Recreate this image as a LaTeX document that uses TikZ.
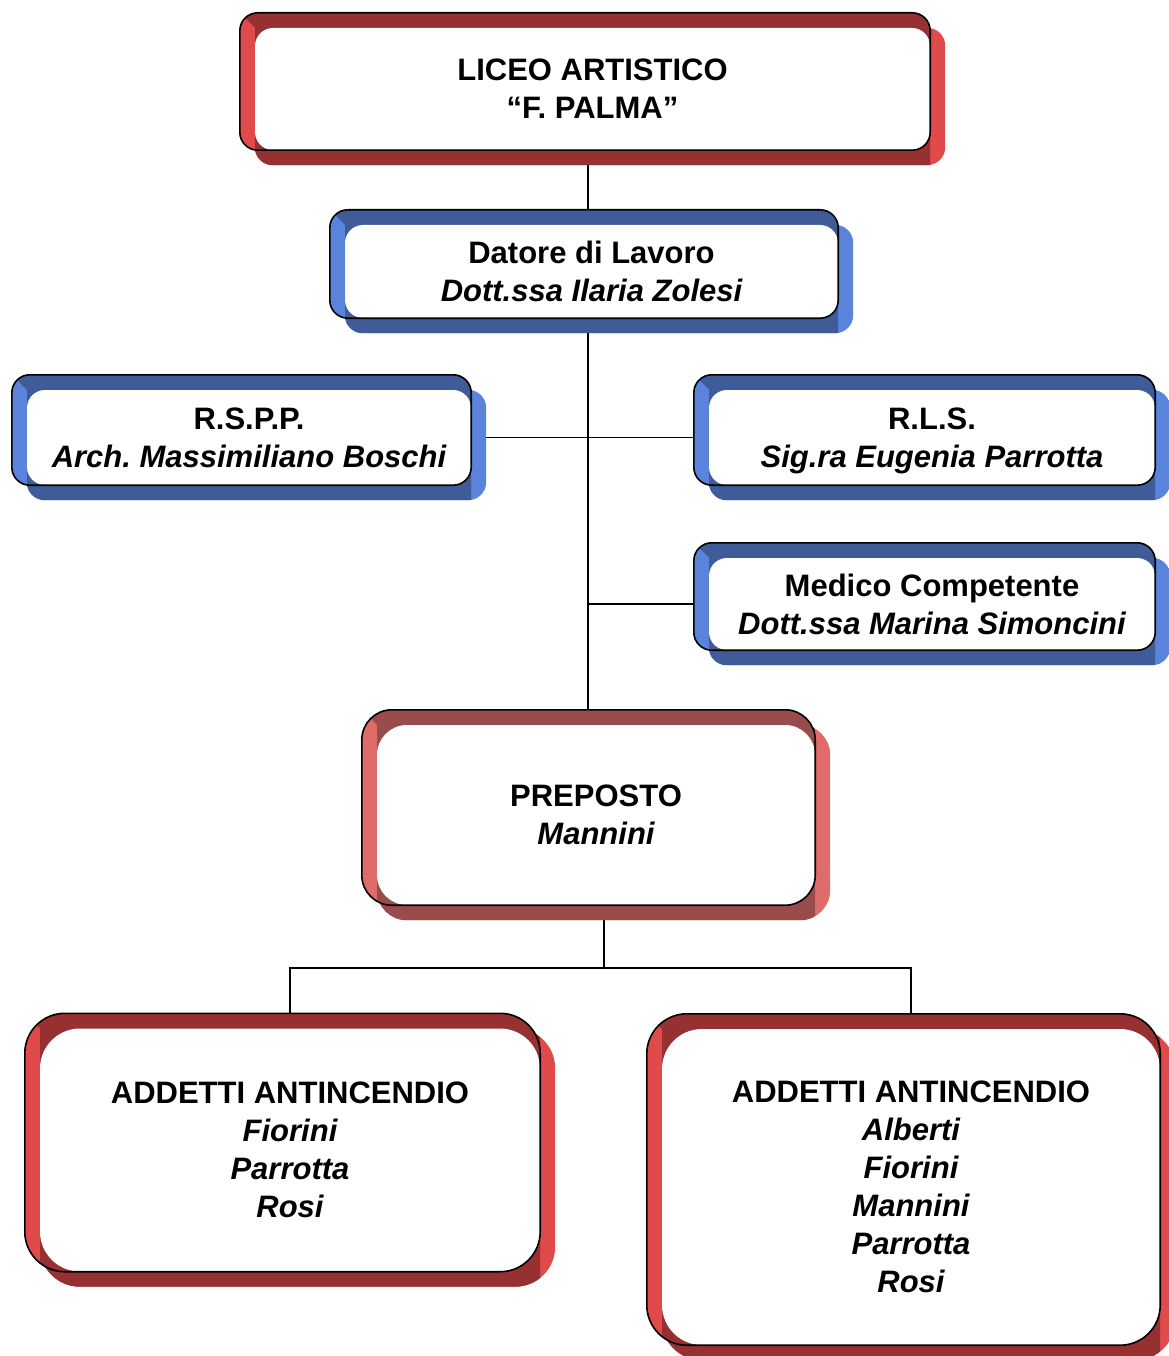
\documentclass[tikz,border=0pt]{standalone}
\usepackage{fontspec}
\setmainfont{Liberation Sans}
\usetikzlibrary{backgrounds}

\definecolor{reddk}{HTML}{973030}
\definecolor{redlt}{HTML}{E04A4A}
\definecolor{bluedk}{HTML}{3F5B98}
\definecolor{bluelt}{HTML}{5A84DC}
\definecolor{pinkdk}{HTML}{9A4B4B}
\definecolor{pinklt}{HTML}{E06B6B}

\begin{document}
\begin{tikzpicture}[x=1pt, y=-1pt,
	box/.style={fill=white, rounded corners=#1, inner sep=0pt, align=center,
		font=\fontsize{31}{38}\selectfont\bfseries},
	link/.style={line width=1.4pt},
	frame/.style={line width=1.6pt}]
	\useasboundingbox (0,0) rectangle (1168,1356);

	\node [box=18, minimum width=675pt, minimum height=122pt] (liceo) at (592.5,89) {LICEO ARTISTICO\\“F. PALMA”};
	\node [box=18, minimum width=493pt, minimum height=93pt] (datore) at (591.5,271.5) {Datore di Lavoro\\\itshape Dott.ssa Ilaria Zolesi};
	\node [box=18, minimum width=444pt, minimum height=95pt] (rspp) at (249,437.5) {R.S.P.P.\\\itshape Arch.\ Massimiliano Boschi};
	\node [box=18, minimum width=446pt, minimum height=95pt] (rls) at (932,437.5) {R.L.S.\\\itshape\smash{Sig.ra Eugenia Parrotta}};
	\node [box=18, minimum width=446pt, minimum height=92pt] (medico) at (932,604) {Medico Competente\\\itshape Dott.ssa Marina Simoncini};
	\node [box=30, minimum width=438pt, minimum height=180pt] (preposto) at (596,815) {PREPOSTO\\\itshape Mannini};
	\node [box=40, minimum width=500pt, minimum height=243pt] (addA) at (290,1150) {ADDETTI ANTINCENDIO\\\itshape Fiorini\\\itshape Parrotta\\\itshape Rosi};
	\node [box=40, minimum width=498pt, minimum height=316pt] (addB) at (911,1187) {ADDETTI ANTINCENDIO\\\itshape Alberti\\\itshape Fiorini\\\itshape Mannini\\\itshape Parrotta\\\itshape Rosi};

	\coordinate (trunk) at (588,0);
	\coordinate (fork) at (604,968);

	\begin{scope}[on background layer]
		% connectors
		\draw [link] (liceo.south -| trunk) -- (preposto.north -| trunk);
		\draw [link] (rspp.east) -- (rls.west);
		\draw [link] (medico.west) -- (medico.west -| trunk);
		\draw [link] (preposto.south -| fork) -- (fork);
		\draw [link] (addA.north) |- (fork) -| (addB.north);

		% shadows and coloured frames
		\foreach \n/\dk/\lt/\r in {liceo/reddk/redlt/18, datore/bluedk/bluelt/18, rspp/bluedk/bluelt/18, rls/bluedk/bluelt/18, medico/bluedk/bluelt/18, preposto/pinkdk/pinklt/30, addA/reddk/redlt/40, addB/reddk/redlt/40} {
			\fill [\lt, rounded corners=\r] (\n.north west) rectangle ([shift={(15,15)}]\n.south east);
			\begin{scope}
				\clip ([shift={(-20,0)}]\n.north west) rectangle ([shift={(0,20)}]\n.south east);
				\fill [\dk, rounded corners=\r] (\n.north west) rectangle ([shift={(15,15)}]\n.south east);
			\end{scope}
			\begin{scope}
				\clip [rounded corners=\r] ([shift={(-15,-15)}]\n.north west) rectangle (\n.south east);
				\fill [\dk] ([shift={(-15,-15)}]\n.north west) rectangle (\n.south east);
				\fill [\lt] ([shift={(-15,-15)}]\n.north west) -- (\n.north west) -- (\n.south west) -- ([shift={(-15,0)}]\n.south west) -- cycle;
			\end{scope}
		}
	\end{scope}

	% outlines
	\foreach \n/\r in {liceo/18, datore/18, rspp/18, rls/18, medico/18, preposto/30, addA/40, addB/40}
		\draw [frame, rounded corners=\r] ([shift={(-15,-15)}]\n.north west) rectangle (\n.south east);
\end{tikzpicture}
\end{document}
